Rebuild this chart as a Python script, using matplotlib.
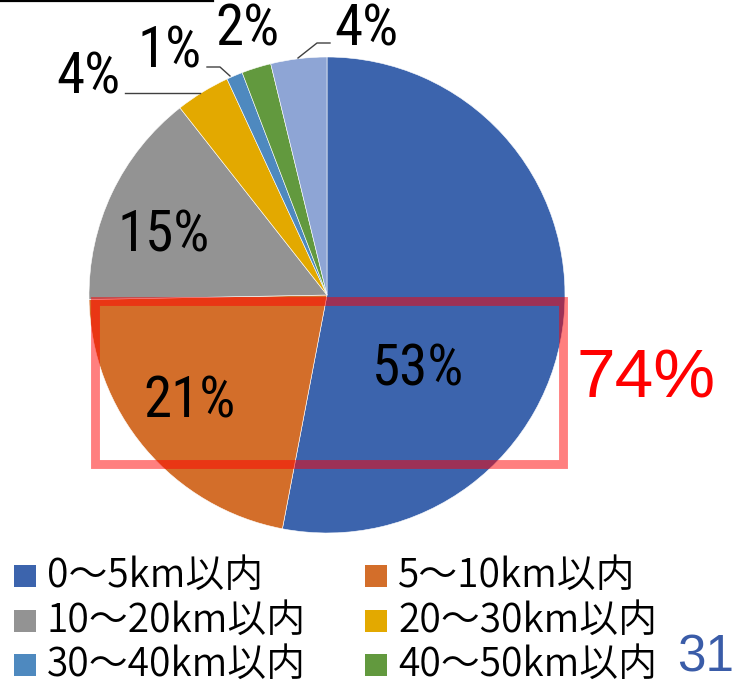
import matplotlib
matplotlib.use("Agg")
import matplotlib.pyplot as plt
from matplotlib import font_manager
from matplotlib.patches import Rectangle

# ---- data ----
categories = ["0～5km以内", "5～10km以内", "10～20km以内", "20～30km以内",
              "30～40km以内", "40～50km以内", "50km超"]
values = [53.0, 21.7, 14.7, 3.7, 1.1, 2.0, 3.8]
pct_labels = ["53%", "21%", "15%", "4%", "1%", "2%", "4%"]
colors = ["#3c64ad", "#d36e2a", "#939393", "#e3a900", "#4e89bf", "#62993e", "#8ea5d5"]
highlight_text = "74%"
page_number = "31"
legend_count = 6

# pick a narrow/condensed font if one is installed
narrow_name, narrow_stretch = None, "normal"
for f in font_manager.fontManager.ttflist:
    nm = f.name
    st = str(f.stretch)
    if ("Narrow" in nm or "Condensed" in nm or st in ("condensed", "semi-condensed")) \
            and f.style == "normal" and f.weight in (400, "normal", "regular"):
        narrow_name, narrow_stretch = nm, (st if st in ("condensed", "semi-condensed") else "normal")
        if "Liberation" in nm or "Roboto" in nm:
            break
FONT_NUM = ([narrow_name] if narrow_name else []) + ["Noto Sans CJK JP", "DejaVu Sans"]
NUM_SIZE = 41 if narrow_name else 34
FONT_LEG = ["Noto Sans CJK JP", "DejaVu Sans"]

W, H = 737, 686
fig = plt.figure(figsize=(W / 100, H / 100), dpi=100)
ax = fig.add_axes([0, 0, 1, 1])

def Y(y):  # image y -> data y
    return H - y

cx, cy, r = 327, 295, 238
wedges, _ = ax.pie(values, colors=colors, startangle=90, counterclock=False,
                   center=(cx, Y(cy)), radius=r,
                   wedgeprops=dict(edgecolor="white", linewidth=0.4))
ax.set_xlim(0, W)
ax.set_ylim(0, H)
ax.set_aspect("equal")
ax.axis("off")

# percentage labels (center x, baseline y in image px)
label_pos = [(418, 385), (190, 417), (164, 252), (88, 93), (170, 68), (247, 46), (366, 46)]
for txt, (x, y) in zip(pct_labels, label_pos):
    ax.text(x, Y(y), txt, ha="center", va="baseline", fontsize=NUM_SIZE,
            family=FONT_NUM, fontstretch=narrow_stretch, fontweight=350, color="black")

# leader lines
leaders = [
    [(125, 93), (200, 93)],
    [(207, 67), (220, 67), (230, 76)],
    [(330, 43), (317, 43), (298, 58)],
]
for pts in leaders:
    ax.plot([p[0] for p in pts], [Y(p[1]) for p in pts], color="#404040", lw=1.0)

# highlight rectangle
ax.add_patch(Rectangle((95, Y(464)), 468, 163.5, fill=False,
                       edgecolor=(1, 0, 0, 0.5), linewidth=6.4))
ax.text(646, Y(397), highlight_text, ha="center", va="baseline",
        fontsize=50, family=["Liberation Sans", "DejaVu Sans"], color="#ff0000")

# legend (manual, 2 columns)
col_x = [14, 365]
row_y = [576, 621, 665]
for i in range(legend_count):
    rr, cc = divmod(i, 2)
    x0, yc = col_x[cc], row_y[rr]
    ax.add_patch(Rectangle((x0, Y(yc) - 11), 22, 22, facecolor=colors[i], edgecolor="none"))
    ax.text(x0 + 33, Y(yc), categories[i], ha="left", va="center",
            fontsize=28, family=FONT_LEG, fontweight=350, color="black")

# page number and top rule
ax.text(706, Y(672), page_number, ha="center", va="baseline", fontsize=37,
        family=["Liberation Sans", "DejaVu Sans"], color="#3a5ca8")
ax.plot([0, 213], [Y(1), Y(1)], color="black", lw=1.6)

fig.savefig("out.png", dpi=100)
